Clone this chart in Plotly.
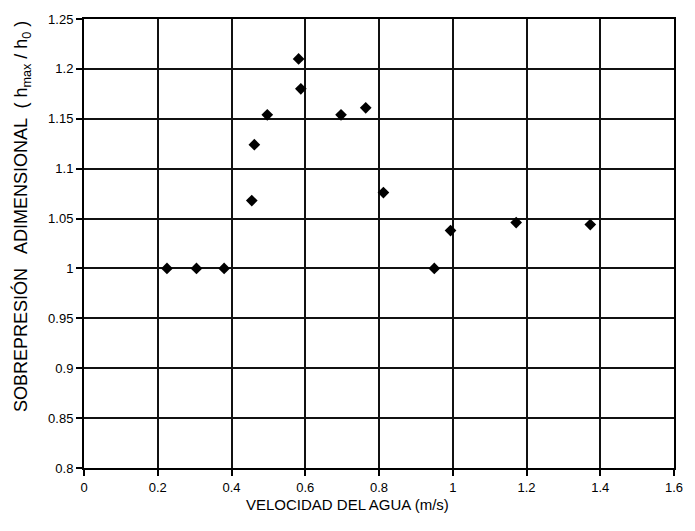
import plotly.graph_objects as go

velocidad = [0.225, 0.305, 0.38, 0.455, 0.462, 0.497, 0.582, 0.588, 0.697, 0.764, 0.812, 0.95, 0.994, 1.172, 1.373]
sobrepresion = [1.0, 1.0, 1.0, 1.068, 1.124, 1.154, 1.21, 1.18, 1.154, 1.161, 1.076, 1.0, 1.038, 1.046, 1.044]

x_ticks = [0, 0.2, 0.4, 0.6, 0.8, 1.0, 1.2, 1.4, 1.6]
x_labels = ["0", "0.2", "0.4", "0.6", "0.8", "1", "1.2", "1.4", "1.6"]
y_ticks = [0.8, 0.85, 0.9, 0.95, 1.0, 1.05, 1.1, 1.15, 1.2, 1.25]
y_labels = ["0.8", "0.85", "0.9", "0.95", "1", "1.05", "1.1", "1.15", "1.2", "1.25"]

x_title = "VELOCIDAD DEL AGUA (m/s)"
y_title = "SOBREPRESIÓN   ADIMENSIONAL  ( h<sub>max</sub> / h<sub>0</sub> )"

fig = go.Figure()
fig.add_trace(go.Scatter(
    x=velocidad, y=sobrepresion, mode="markers",
    marker=dict(symbol="diamond", size=9, color="black"),
    showlegend=False,
))

font = dict(family="Liberation Sans, Arial, sans-serif", color="black")

axis_common = dict(
    showgrid=True, gridcolor="#111", gridwidth=1.5,
    showline=True, linecolor="black", linewidth=2, mirror=True,
    ticks="outside", ticklen=6, tickcolor="black", tickwidth=1.5,
    tickfont=dict(size=13, **font), zeroline=False,
)

fig.update_layout(
    width=695, height=531,
    margin=dict(l=84, r=12, t=15, b=63),
    paper_bgcolor="white", plot_bgcolor="white",
    font=font,
    xaxis=dict(range=[0, 1.6], tickvals=x_ticks, ticktext=x_labels, **axis_common),
    yaxis=dict(range=[0.8, 1.25], tickvals=y_ticks, ticktext=y_labels, **axis_common),
    annotations=[
        dict(text=x_title, xref="paper", yref="paper", x=0.447, y=-0.082,
             xanchor="center", yanchor="middle", showarrow=False,
             font=dict(size=15, **font)),
        dict(text=y_title, xref="paper", yref="paper", x=-0.106, y=0.56,
             xanchor="center", yanchor="middle", textangle=-90, showarrow=False,
             font=dict(size=18, **font)),
    ],
)

fig.write_html("out.html")
